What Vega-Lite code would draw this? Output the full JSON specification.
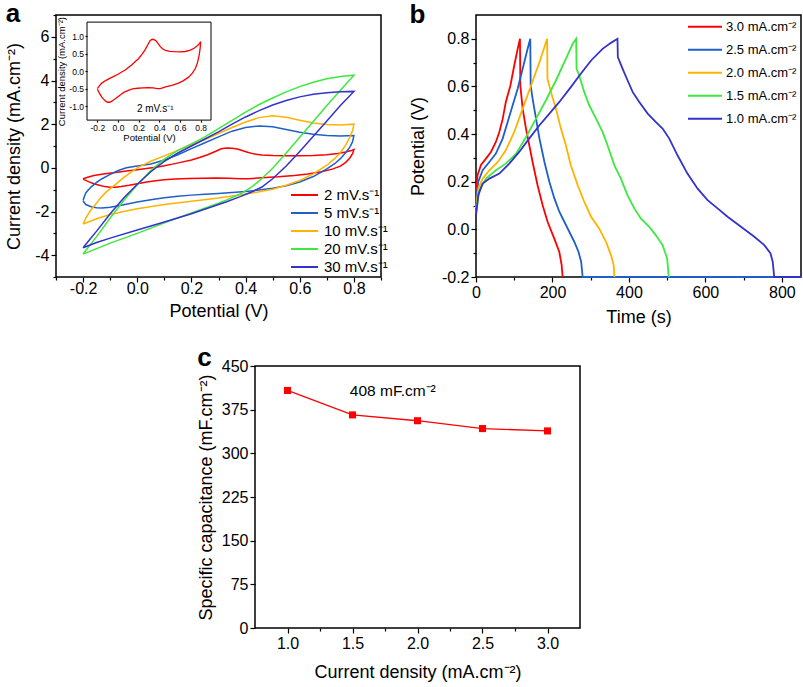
{
"$schema": "https://vega.github.io/schema/vega-lite/v6.json",
"padding": {"left": 5, "top": 0, "right": 0, "bottom": 0},
"background": "white",
"spacing": 17,
"resolve": {"scale": {"color": "independent"}},
"config": {
 "font": "Liberation Sans",
 "view": {"stroke": "black", "strokeWidth": 1.5},
 "axis": {"grid": false, "domain": false, "labelFlush": false, "tickColor": "black", "tickWidth": 1.2, "labelColor": "black", "titleColor": "black", "labelFontSize": 16, "titleFontSize": 18, "titleFontWeight": "normal", "labelFont": "Liberation Sans", "titleFont": "Liberation Sans"},
 "legend": {"labelColor": "black", "labelFont": "Liberation Sans"},
 "title": {"anchor": "start", "frame": "bounds", "fontWeight": "bold", "color": "black", "font": "Liberation Sans"}
},
"datasets": {
 "cv": [
{"s":"2 mV.s⁻¹","i":0,"v":-0.2,"j":-0.5},{"s":"2 mV.s⁻¹","i":1,"v":-0.18,"j":-0.42},{"s":"2 mV.s⁻¹","i":2,"v":-0.16,"j":-0.35},{"s":"2 mV.s⁻¹","i":3,"v":-0.12,"j":-0.27},{"s":"2 mV.s⁻¹","i":4,"v":-0.08,"j":-0.21},{"s":"2 mV.s⁻¹","i":5,"v":-0.04,"j":-0.15},{"s":"2 mV.s⁻¹","i":6,"v":0,"j":-0.09},{"s":"2 mV.s⁻¹","i":7,"v":0.04,"j":-0.02},{"s":"2 mV.s⁻¹","i":8,"v":0.07,"j":0.03},{"s":"2 mV.s⁻¹","i":9,"v":0.1,"j":0.1},{"s":"2 mV.s⁻¹","i":10,"v":0.13,"j":0.17},{"s":"2 mV.s⁻¹","i":11,"v":0.16,"j":0.25},{"s":"2 mV.s⁻¹","i":12,"v":0.2,"j":0.36},{"s":"2 mV.s⁻¹","i":13,"v":0.23,"j":0.47},{"s":"2 mV.s⁻¹","i":14,"v":0.26,"j":0.6},{"s":"2 mV.s⁻¹","i":15,"v":0.29,"j":0.76},{"s":"2 mV.s⁻¹","i":16,"v":0.31,"j":0.87},{"s":"2 mV.s⁻¹","i":17,"v":0.33,"j":0.91},{"s":"2 mV.s⁻¹","i":18,"v":0.35,"j":0.9},{"s":"2 mV.s⁻¹","i":19,"v":0.37,"j":0.86},{"s":"2 mV.s⁻¹","i":20,"v":0.39,"j":0.78},{"s":"2 mV.s⁻¹","i":21,"v":0.41,"j":0.7},{"s":"2 mV.s⁻¹","i":22,"v":0.43,"j":0.64},{"s":"2 mV.s⁻¹","i":23,"v":0.46,"j":0.59},{"s":"2 mV.s⁻¹","i":24,"v":0.5,"j":0.565},{"s":"2 mV.s⁻¹","i":25,"v":0.55,"j":0.555},{"s":"2 mV.s⁻¹","i":26,"v":0.6,"j":0.55},{"s":"2 mV.s⁻¹","i":27,"v":0.65,"j":0.56},{"s":"2 mV.s⁻¹","i":28,"v":0.7,"j":0.6},{"s":"2 mV.s⁻¹","i":29,"v":0.74,"j":0.66},{"s":"2 mV.s⁻¹","i":30,"v":0.77,"j":0.73},{"s":"2 mV.s⁻¹","i":31,"v":0.79,"j":0.79},{"s":"2 mV.s⁻¹","i":32,"v":0.8,"j":0.84},{"s":"2 mV.s⁻¹","i":33,"v":0.795,"j":0.65},{"s":"2 mV.s⁻¹","i":34,"v":0.785,"j":0.45},{"s":"2 mV.s⁻¹","i":35,"v":0.77,"j":0.25},{"s":"2 mV.s⁻¹","i":36,"v":0.75,"j":0.08},{"s":"2 mV.s⁻¹","i":37,"v":0.72,"j":-0.06},{"s":"2 mV.s⁻¹","i":38,"v":0.68,"j":-0.18},{"s":"2 mV.s⁻¹","i":39,"v":0.63,"j":-0.28},{"s":"2 mV.s⁻¹","i":40,"v":0.58,"j":-0.35},{"s":"2 mV.s⁻¹","i":41,"v":0.52,"j":-0.41},{"s":"2 mV.s⁻¹","i":42,"v":0.46,"j":-0.45},{"s":"2 mV.s⁻¹","i":43,"v":0.41,"j":-0.5},{"s":"2 mV.s⁻¹","i":44,"v":0.38,"j":-0.5},{"s":"2 mV.s⁻¹","i":45,"v":0.34,"j":-0.48},{"s":"2 mV.s⁻¹","i":46,"v":0.29,"j":-0.47},{"s":"2 mV.s⁻¹","i":47,"v":0.24,"j":-0.48},{"s":"2 mV.s⁻¹","i":48,"v":0.19,"j":-0.49},{"s":"2 mV.s⁻¹","i":49,"v":0.14,"j":-0.51},{"s":"2 mV.s⁻¹","i":50,"v":0.1,"j":-0.55},{"s":"2 mV.s⁻¹","i":51,"v":0.06,"j":-0.6},{"s":"2 mV.s⁻¹","i":52,"v":0.03,"j":-0.66},{"s":"2 mV.s⁻¹","i":53,"v":0,"j":-0.73},{"s":"2 mV.s⁻¹","i":54,"v":-0.03,"j":-0.8},{"s":"2 mV.s⁻¹","i":55,"v":-0.06,"j":-0.86},{"s":"2 mV.s⁻¹","i":56,"v":-0.08,"j":-0.89},{"s":"2 mV.s⁻¹","i":57,"v":-0.1,"j":-0.89},{"s":"2 mV.s⁻¹","i":58,"v":-0.12,"j":-0.86},{"s":"2 mV.s⁻¹","i":59,"v":-0.14,"j":-0.8},{"s":"2 mV.s⁻¹","i":60,"v":-0.16,"j":-0.73},{"s":"2 mV.s⁻¹","i":61,"v":-0.18,"j":-0.63},{"s":"2 mV.s⁻¹","i":62,"v":-0.2,"j":-0.52},
{"s":"5 mV.s⁻¹","i":0,"v":-0.2,"j":-1.5},{"s":"5 mV.s⁻¹","i":1,"v":-0.195,"j":-1.3},{"s":"5 mV.s⁻¹","i":2,"v":-0.19,"j":-1.15},{"s":"5 mV.s⁻¹","i":3,"v":-0.18,"j":-1.0},{"s":"5 mV.s⁻¹","i":4,"v":-0.17,"j":-0.87},{"s":"5 mV.s⁻¹","i":5,"v":-0.15,"j":-0.67},{"s":"5 mV.s⁻¹","i":6,"v":-0.13,"j":-0.5},{"s":"5 mV.s⁻¹","i":7,"v":-0.1,"j":-0.3},{"s":"5 mV.s⁻¹","i":8,"v":-0.07,"j":-0.12},{"s":"5 mV.s⁻¹","i":9,"v":-0.04,"j":0},{"s":"5 mV.s⁻¹","i":10,"v":0,"j":0.08},{"s":"5 mV.s⁻¹","i":11,"v":0.05,"j":0.18},{"s":"5 mV.s⁻¹","i":12,"v":0.1,"j":0.36},{"s":"5 mV.s⁻¹","i":13,"v":0.15,"j":0.6},{"s":"5 mV.s⁻¹","i":14,"v":0.2,"j":0.88},{"s":"5 mV.s⁻¹","i":15,"v":0.25,"j":1.15},{"s":"5 mV.s⁻¹","i":16,"v":0.3,"j":1.42},{"s":"5 mV.s⁻¹","i":17,"v":0.35,"j":1.68},{"s":"5 mV.s⁻¹","i":18,"v":0.4,"j":1.85},{"s":"5 mV.s⁻¹","i":19,"v":0.45,"j":1.92},{"s":"5 mV.s⁻¹","i":20,"v":0.5,"j":1.88},{"s":"5 mV.s⁻¹","i":21,"v":0.55,"j":1.76},{"s":"5 mV.s⁻¹","i":22,"v":0.6,"j":1.63},{"s":"5 mV.s⁻¹","i":23,"v":0.65,"j":1.54},{"s":"5 mV.s⁻¹","i":24,"v":0.7,"j":1.48},{"s":"5 mV.s⁻¹","i":25,"v":0.75,"j":1.46},{"s":"5 mV.s⁻¹","i":26,"v":0.8,"j":1.48},{"s":"5 mV.s⁻¹","i":27,"v":0.795,"j":1.2},{"s":"5 mV.s⁻¹","i":28,"v":0.785,"j":0.95},{"s":"5 mV.s⁻¹","i":29,"v":0.77,"j":0.7},{"s":"5 mV.s⁻¹","i":30,"v":0.75,"j":0.42},{"s":"5 mV.s⁻¹","i":31,"v":0.73,"j":0.2},{"s":"5 mV.s⁻¹","i":32,"v":0.7,"j":-0.05},{"s":"5 mV.s⁻¹","i":33,"v":0.65,"j":-0.4},{"s":"5 mV.s⁻¹","i":34,"v":0.6,"j":-0.65},{"s":"5 mV.s⁻¹","i":35,"v":0.55,"j":-0.82},{"s":"5 mV.s⁻¹","i":36,"v":0.5,"j":-0.93},{"s":"5 mV.s⁻¹","i":37,"v":0.45,"j":-1.02},{"s":"5 mV.s⁻¹","i":38,"v":0.4,"j":-1.08},{"s":"5 mV.s⁻¹","i":39,"v":0.35,"j":-1.13},{"s":"5 mV.s⁻¹","i":40,"v":0.3,"j":-1.17},{"s":"5 mV.s⁻¹","i":41,"v":0.25,"j":-1.21},{"s":"5 mV.s⁻¹","i":42,"v":0.2,"j":-1.25},{"s":"5 mV.s⁻¹","i":43,"v":0.15,"j":-1.3},{"s":"5 mV.s⁻¹","i":44,"v":0.1,"j":-1.37},{"s":"5 mV.s⁻¹","i":45,"v":0.05,"j":-1.46},{"s":"5 mV.s⁻¹","i":46,"v":0,"j":-1.57},{"s":"5 mV.s⁻¹","i":47,"v":-0.05,"j":-1.69},{"s":"5 mV.s⁻¹","i":48,"v":-0.1,"j":-1.8},{"s":"5 mV.s⁻¹","i":49,"v":-0.13,"j":-1.84},{"s":"5 mV.s⁻¹","i":50,"v":-0.15,"j":-1.83},{"s":"5 mV.s⁻¹","i":51,"v":-0.17,"j":-1.78},{"s":"5 mV.s⁻¹","i":52,"v":-0.19,"j":-1.68},{"s":"5 mV.s⁻¹","i":53,"v":-0.2,"j":-1.52},
{"s":"10 mV.s⁻¹","i":0,"v":-0.2,"j":-2.57},{"s":"10 mV.s⁻¹","i":1,"v":-0.19,"j":-2.3},{"s":"10 mV.s⁻¹","i":2,"v":-0.175,"j":-2.0},{"s":"10 mV.s⁻¹","i":3,"v":-0.157,"j":-1.71},{"s":"10 mV.s⁻¹","i":4,"v":-0.14,"j":-1.45},{"s":"10 mV.s⁻¹","i":5,"v":-0.12,"j":-1.17},{"s":"10 mV.s⁻¹","i":6,"v":-0.1,"j":-0.95},{"s":"10 mV.s⁻¹","i":7,"v":-0.08,"j":-0.76},{"s":"10 mV.s⁻¹","i":8,"v":-0.05,"j":-0.45},{"s":"10 mV.s⁻¹","i":9,"v":-0.02,"j":-0.17},{"s":"10 mV.s⁻¹","i":10,"v":0,"j":0},{"s":"10 mV.s⁻¹","i":11,"v":0.05,"j":0.3},{"s":"10 mV.s⁻¹","i":12,"v":0.1,"j":0.55},{"s":"10 mV.s⁻¹","i":13,"v":0.15,"j":0.8},{"s":"10 mV.s⁻¹","i":14,"v":0.2,"j":1.05},{"s":"10 mV.s⁻¹","i":15,"v":0.25,"j":1.3},{"s":"10 mV.s⁻¹","i":16,"v":0.3,"j":1.57},{"s":"10 mV.s⁻¹","i":17,"v":0.35,"j":1.85},{"s":"10 mV.s⁻¹","i":18,"v":0.4,"j":2.1},{"s":"10 mV.s⁻¹","i":19,"v":0.45,"j":2.3},{"s":"10 mV.s⁻¹","i":20,"v":0.5,"j":2.38},{"s":"10 mV.s⁻¹","i":21,"v":0.55,"j":2.32},{"s":"10 mV.s⁻¹","i":22,"v":0.6,"j":2.18},{"s":"10 mV.s⁻¹","i":23,"v":0.65,"j":2.05},{"s":"10 mV.s⁻¹","i":24,"v":0.7,"j":1.98},{"s":"10 mV.s⁻¹","i":25,"v":0.75,"j":1.96},{"s":"10 mV.s⁻¹","i":26,"v":0.8,"j":2.0},{"s":"10 mV.s⁻¹","i":27,"v":0.795,"j":1.7},{"s":"10 mV.s⁻¹","i":28,"v":0.785,"j":1.4},{"s":"10 mV.s⁻¹","i":29,"v":0.77,"j":1.05},{"s":"10 mV.s⁻¹","i":30,"v":0.75,"j":0.7},{"s":"10 mV.s⁻¹","i":31,"v":0.73,"j":0.43},{"s":"10 mV.s⁻¹","i":32,"v":0.7,"j":0.12},{"s":"10 mV.s⁻¹","i":33,"v":0.65,"j":-0.28},{"s":"10 mV.s⁻¹","i":34,"v":0.6,"j":-0.58},{"s":"10 mV.s⁻¹","i":35,"v":0.55,"j":-0.8},{"s":"10 mV.s⁻¹","i":36,"v":0.5,"j":-0.98},{"s":"10 mV.s⁻¹","i":37,"v":0.45,"j":-1.1},{"s":"10 mV.s⁻¹","i":38,"v":0.4,"j":-1.2},{"s":"10 mV.s⁻¹","i":39,"v":0.3,"j":-1.38},{"s":"10 mV.s⁻¹","i":40,"v":0.2,"j":-1.53},{"s":"10 mV.s⁻¹","i":41,"v":0.1,"j":-1.68},{"s":"10 mV.s⁻¹","i":42,"v":0,"j":-1.87},{"s":"10 mV.s⁻¹","i":43,"v":-0.05,"j":-2.0},{"s":"10 mV.s⁻¹","i":44,"v":-0.1,"j":-2.14},{"s":"10 mV.s⁻¹","i":45,"v":-0.15,"j":-2.33},{"s":"10 mV.s⁻¹","i":46,"v":-0.2,"j":-2.57},
{"s":"20 mV.s⁻¹","i":0,"v":-0.2,"j":-3.95},{"s":"20 mV.s⁻¹","i":1,"v":-0.18,"j":-3.62},{"s":"20 mV.s⁻¹","i":2,"v":-0.15,"j":-3.15},{"s":"20 mV.s⁻¹","i":3,"v":-0.1,"j":-2.3},{"s":"20 mV.s⁻¹","i":4,"v":-0.05,"j":-1.5},{"s":"20 mV.s⁻¹","i":5,"v":0,"j":-0.78},{"s":"20 mV.s⁻¹","i":6,"v":0.05,"j":-0.12},{"s":"20 mV.s⁻¹","i":7,"v":0.1,"j":0.4},{"s":"20 mV.s⁻¹","i":8,"v":0.15,"j":0.8},{"s":"20 mV.s⁻¹","i":9,"v":0.2,"j":1.1},{"s":"20 mV.s⁻¹","i":10,"v":0.25,"j":1.42},{"s":"20 mV.s⁻¹","i":11,"v":0.3,"j":1.8},{"s":"20 mV.s⁻¹","i":12,"v":0.35,"j":2.17},{"s":"20 mV.s⁻¹","i":13,"v":0.4,"j":2.55},{"s":"20 mV.s⁻¹","i":14,"v":0.45,"j":2.9},{"s":"20 mV.s⁻¹","i":15,"v":0.5,"j":3.2},{"s":"20 mV.s⁻¹","i":16,"v":0.55,"j":3.48},{"s":"20 mV.s⁻¹","i":17,"v":0.6,"j":3.72},{"s":"20 mV.s⁻¹","i":18,"v":0.65,"j":3.92},{"s":"20 mV.s⁻¹","i":19,"v":0.7,"j":4.08},{"s":"20 mV.s⁻¹","i":20,"v":0.75,"j":4.18},{"s":"20 mV.s⁻¹","i":21,"v":0.8,"j":4.24},{"s":"20 mV.s⁻¹","i":22,"v":0.775,"j":3.9},{"s":"20 mV.s⁻¹","i":23,"v":0.75,"j":3.55},{"s":"20 mV.s⁻¹","i":24,"v":0.7,"j":2.85},{"s":"20 mV.s⁻¹","i":25,"v":0.65,"j":2.12},{"s":"20 mV.s⁻¹","i":26,"v":0.6,"j":1.4},{"s":"20 mV.s⁻¹","i":27,"v":0.55,"j":0.68},{"s":"20 mV.s⁻¹","i":28,"v":0.5,"j":-0.02},{"s":"20 mV.s⁻¹","i":29,"v":0.45,"j":-0.6},{"s":"20 mV.s⁻¹","i":30,"v":0.42,"j":-0.9},{"s":"20 mV.s⁻¹","i":31,"v":0.38,"j":-1.2},{"s":"20 mV.s⁻¹","i":32,"v":0.33,"j":-1.47},{"s":"20 mV.s⁻¹","i":33,"v":0.3,"j":-1.62},{"s":"20 mV.s⁻¹","i":34,"v":0.2,"j":-2.07},{"s":"20 mV.s⁻¹","i":35,"v":0.1,"j":-2.52},{"s":"20 mV.s⁻¹","i":36,"v":0,"j":-3.0},{"s":"20 mV.s⁻¹","i":37,"v":-0.1,"j":-3.45},{"s":"20 mV.s⁻¹","i":38,"v":-0.15,"j":-3.7},{"s":"20 mV.s⁻¹","i":39,"v":-0.2,"j":-3.95},
{"s":"30 mV.s⁻¹","i":0,"v":-0.2,"j":-3.66},{"s":"30 mV.s⁻¹","i":1,"v":-0.18,"j":-3.35},{"s":"30 mV.s⁻¹","i":2,"v":-0.15,"j":-2.9},{"s":"30 mV.s⁻¹","i":3,"v":-0.1,"j":-2.1},{"s":"30 mV.s⁻¹","i":4,"v":-0.05,"j":-1.38},{"s":"30 mV.s⁻¹","i":5,"v":0,"j":-0.75},{"s":"30 mV.s⁻¹","i":6,"v":0.05,"j":-0.18},{"s":"30 mV.s⁻¹","i":7,"v":0.1,"j":0.3},{"s":"30 mV.s⁻¹","i":8,"v":0.15,"j":0.68},{"s":"30 mV.s⁻¹","i":9,"v":0.2,"j":1.0},{"s":"30 mV.s⁻¹","i":10,"v":0.25,"j":1.32},{"s":"30 mV.s⁻¹","i":11,"v":0.3,"j":1.65},{"s":"30 mV.s⁻¹","i":12,"v":0.35,"j":2.0},{"s":"30 mV.s⁻¹","i":13,"v":0.4,"j":2.33},{"s":"30 mV.s⁻¹","i":14,"v":0.45,"j":2.62},{"s":"30 mV.s⁻¹","i":15,"v":0.5,"j":2.88},{"s":"30 mV.s⁻¹","i":16,"v":0.55,"j":3.08},{"s":"30 mV.s⁻¹","i":17,"v":0.6,"j":3.25},{"s":"30 mV.s⁻¹","i":18,"v":0.65,"j":3.37},{"s":"30 mV.s⁻¹","i":19,"v":0.7,"j":3.44},{"s":"30 mV.s⁻¹","i":20,"v":0.75,"j":3.48},{"s":"30 mV.s⁻¹","i":21,"v":0.8,"j":3.5},{"s":"30 mV.s⁻¹","i":22,"v":0.775,"j":3.18},{"s":"30 mV.s⁻¹","i":23,"v":0.75,"j":2.85},{"s":"30 mV.s⁻¹","i":24,"v":0.7,"j":2.15},{"s":"30 mV.s⁻¹","i":25,"v":0.65,"j":1.45},{"s":"30 mV.s⁻¹","i":26,"v":0.6,"j":0.75},{"s":"30 mV.s⁻¹","i":27,"v":0.55,"j":0.08},{"s":"30 mV.s⁻¹","i":28,"v":0.5,"j":-0.5},{"s":"30 mV.s⁻¹","i":29,"v":0.46,"j":-0.88},{"s":"30 mV.s⁻¹","i":30,"v":0.42,"j":-1.12},{"s":"30 mV.s⁻¹","i":31,"v":0.38,"j":-1.32},{"s":"30 mV.s⁻¹","i":32,"v":0.33,"j":-1.55},{"s":"30 mV.s⁻¹","i":33,"v":0.3,"j":-1.68},{"s":"30 mV.s⁻¹","i":34,"v":0.2,"j":-2.1},{"s":"30 mV.s⁻¹","i":35,"v":0.1,"j":-2.48},{"s":"30 mV.s⁻¹","i":36,"v":0,"j":-2.85},{"s":"30 mV.s⁻¹","i":37,"v":-0.1,"j":-3.22},{"s":"30 mV.s⁻¹","i":38,"v":-0.15,"j":-3.42},{"s":"30 mV.s⁻¹","i":39,"v":-0.2,"j":-3.66}
 ],
 "gcd": [
{"s":"3.0 mA.cm⁻²","t":0,"e":0.158},{"s":"3.0 mA.cm⁻²","t":4,"e":0.227},{"s":"3.0 mA.cm⁻²","t":13,"e":0.27},{"s":"3.0 mA.cm⁻²","t":26,"e":0.297},{"s":"3.0 mA.cm⁻²","t":39,"e":0.325},{"s":"3.0 mA.cm⁻²","t":52,"e":0.367},{"s":"3.0 mA.cm⁻²","t":61,"e":0.409},{"s":"3.0 mA.cm⁻²","t":70,"e":0.465},{"s":"3.0 mA.cm⁻²","t":78,"e":0.535},{"s":"3.0 mA.cm⁻²","t":90,"e":0.604},{"s":"3.0 mA.cm⁻²","t":100,"e":0.688},{"s":"3.0 mA.cm⁻²","t":109,"e":0.758},{"s":"3.0 mA.cm⁻²","t":115,"e":0.8},{"s":"3.0 mA.cm⁻²","t":116,"e":0.6},{"s":"3.0 mA.cm⁻²","t":117.6,"e":0.577},{"s":"3.0 mA.cm⁻²","t":122,"e":0.507},{"s":"3.0 mA.cm⁻²","t":130.7,"e":0.423},{"s":"3.0 mA.cm⁻²","t":139.4,"e":0.353},{"s":"3.0 mA.cm⁻²","t":148,"e":0.283},{"s":"3.0 mA.cm⁻²","t":161,"e":0.185},{"s":"3.0 mA.cm⁻²","t":174.3,"e":0.101},{"s":"3.0 mA.cm⁻²","t":187.4,"e":0.031},{"s":"3.0 mA.cm⁻²","t":204.8,"e":-0.039},{"s":"3.0 mA.cm⁻²","t":217.9,"e":-0.095},{"s":"3.0 mA.cm⁻²","t":224,"e":-0.15},{"s":"3.0 mA.cm⁻²","t":226.6,"e":-0.2},
{"s":"2.5 mA.cm⁻²","t":0,"e":0.116},{"s":"2.5 mA.cm⁻²","t":6,"e":0.2},{"s":"2.5 mA.cm⁻²","t":17.4,"e":0.248},{"s":"2.5 mA.cm⁻²","t":34.9,"e":0.283},{"s":"2.5 mA.cm⁻²","t":52,"e":0.318},{"s":"2.5 mA.cm⁻²","t":69.7,"e":0.381},{"s":"2.5 mA.cm⁻²","t":82.8,"e":0.451},{"s":"2.5 mA.cm⁻²","t":95.9,"e":0.521},{"s":"2.5 mA.cm⁻²","t":109,"e":0.59},{"s":"2.5 mA.cm⁻²","t":122,"e":0.674},{"s":"2.5 mA.cm⁻²","t":135,"e":0.758},{"s":"2.5 mA.cm⁻²","t":142,"e":0.8},{"s":"2.5 mA.cm⁻²","t":143,"e":0.605},{"s":"2.5 mA.cm⁻²","t":148,"e":0.549},{"s":"2.5 mA.cm⁻²","t":157,"e":0.465},{"s":"2.5 mA.cm⁻²","t":166,"e":0.381},{"s":"2.5 mA.cm⁻²","t":179,"e":0.283},{"s":"2.5 mA.cm⁻²","t":192,"e":0.199},{"s":"2.5 mA.cm⁻²","t":205,"e":0.13},{"s":"2.5 mA.cm⁻²","t":218,"e":0.074},{"s":"2.5 mA.cm⁻²","t":231,"e":0.032},{"s":"2.5 mA.cm⁻²","t":244,"e":-0.01},{"s":"2.5 mA.cm⁻²","t":257,"e":-0.052},{"s":"2.5 mA.cm⁻²","t":268,"e":-0.094},{"s":"2.5 mA.cm⁻²","t":275,"e":-0.136},{"s":"2.5 mA.cm⁻²","t":279,"e":-0.2},{"s":"2.5 mA.cm⁻²","t":850,"e":-0.2},
{"s":"2.0 mA.cm⁻²","t":0,"e":0.088},{"s":"2.0 mA.cm⁻²","t":6,"e":0.172},{"s":"2.0 mA.cm⁻²","t":17.4,"e":0.213},{"s":"2.0 mA.cm⁻²","t":35,"e":0.248},{"s":"2.0 mA.cm⁻²","t":57,"e":0.283},{"s":"2.0 mA.cm⁻²","t":78,"e":0.332},{"s":"2.0 mA.cm⁻²","t":100,"e":0.409},{"s":"2.0 mA.cm⁻²","t":122,"e":0.507},{"s":"2.0 mA.cm⁻²","t":144,"e":0.604},{"s":"2.0 mA.cm⁻²","t":166,"e":0.702},{"s":"2.0 mA.cm⁻²","t":186,"e":0.8},{"s":"2.0 mA.cm⁻²","t":187,"e":0.632},{"s":"2.0 mA.cm⁻²","t":196,"e":0.577},{"s":"2.0 mA.cm⁻²","t":209,"e":0.507},{"s":"2.0 mA.cm⁻²","t":222,"e":0.423},{"s":"2.0 mA.cm⁻²","t":235,"e":0.353},{"s":"2.0 mA.cm⁻²","t":248,"e":0.269},{"s":"2.0 mA.cm⁻²","t":266,"e":0.185},{"s":"2.0 mA.cm⁻²","t":283,"e":0.116},{"s":"2.0 mA.cm⁻²","t":301,"e":0.053},{"s":"2.0 mA.cm⁻²","t":322,"e":0.004},{"s":"2.0 mA.cm⁻²","t":340,"e":-0.052},{"s":"2.0 mA.cm⁻²","t":353,"e":-0.108},{"s":"2.0 mA.cm⁻²","t":360,"e":-0.15},{"s":"2.0 mA.cm⁻²","t":362,"e":-0.2},
{"s":"1.5 mA.cm⁻²","t":0,"e":0.067},{"s":"1.5 mA.cm⁻²","t":8.7,"e":0.165},{"s":"1.5 mA.cm⁻²","t":26,"e":0.213},{"s":"1.5 mA.cm⁻²","t":52,"e":0.248},{"s":"1.5 mA.cm⁻²","t":78,"e":0.276},{"s":"1.5 mA.cm⁻²","t":105,"e":0.318},{"s":"1.5 mA.cm⁻²","t":131,"e":0.388},{"s":"1.5 mA.cm⁻²","t":157,"e":0.465},{"s":"1.5 mA.cm⁻²","t":183,"e":0.542},{"s":"1.5 mA.cm⁻²","t":209,"e":0.625},{"s":"1.5 mA.cm⁻²","t":235,"e":0.716},{"s":"1.5 mA.cm⁻²","t":253,"e":0.779},{"s":"1.5 mA.cm⁻²","t":262,"e":0.8},{"s":"1.5 mA.cm⁻²","t":263,"e":0.674},{"s":"1.5 mA.cm⁻²","t":270,"e":0.646},{"s":"1.5 mA.cm⁻²","t":283,"e":0.577},{"s":"1.5 mA.cm⁻²","t":296,"e":0.521},{"s":"1.5 mA.cm⁻²","t":314,"e":0.465},{"s":"1.5 mA.cm⁻²","t":331,"e":0.409},{"s":"1.5 mA.cm⁻²","t":344,"e":0.353},{"s":"1.5 mA.cm⁻²","t":362,"e":0.269},{"s":"1.5 mA.cm⁻²","t":379,"e":0.213},{"s":"1.5 mA.cm⁻²","t":396,"e":0.144},{"s":"1.5 mA.cm⁻²","t":414,"e":0.088},{"s":"1.5 mA.cm⁻²","t":431,"e":0.046},{"s":"1.5 mA.cm⁻²","t":453,"e":0.011},{"s":"1.5 mA.cm⁻²","t":470,"e":-0.024},{"s":"1.5 mA.cm⁻²","t":488,"e":-0.066},{"s":"1.5 mA.cm⁻²","t":500,"e":-0.122},{"s":"1.5 mA.cm⁻²","t":504,"e":-0.2},
{"s":"1.0 mA.cm⁻²","t":0,"e":0.06},{"s":"1.0 mA.cm⁻²","t":6,"e":0.144},{"s":"1.0 mA.cm⁻²","t":17.4,"e":0.192},{"s":"1.0 mA.cm⁻²","t":35,"e":0.213},{"s":"1.0 mA.cm⁻²","t":61,"e":0.234},{"s":"1.0 mA.cm⁻²","t":87,"e":0.276},{"s":"1.0 mA.cm⁻²","t":113,"e":0.325},{"s":"1.0 mA.cm⁻²","t":139,"e":0.381},{"s":"1.0 mA.cm⁻²","t":166,"e":0.437},{"s":"1.0 mA.cm⁻²","t":192,"e":0.486},{"s":"1.0 mA.cm⁻²","t":218,"e":0.535},{"s":"1.0 mA.cm⁻²","t":248,"e":0.597},{"s":"1.0 mA.cm⁻²","t":274,"e":0.653},{"s":"1.0 mA.cm⁻²","t":301,"e":0.709},{"s":"1.0 mA.cm⁻²","t":331,"e":0.758},{"s":"1.0 mA.cm⁻²","t":353,"e":0.783},{"s":"1.0 mA.cm⁻²","t":370,"e":0.8},{"s":"1.0 mA.cm⁻²","t":371,"e":0.723},{"s":"1.0 mA.cm⁻²","t":383.5,"e":0.674},{"s":"1.0 mA.cm⁻²","t":396.6,"e":0.625},{"s":"1.0 mA.cm⁻²","t":409.6,"e":0.577},{"s":"1.0 mA.cm⁻²","t":427,"e":0.535},{"s":"1.0 mA.cm⁻²","t":449,"e":0.486},{"s":"1.0 mA.cm⁻²","t":470,"e":0.451},{"s":"1.0 mA.cm⁻²","t":488,"e":0.423},{"s":"1.0 mA.cm⁻²","t":505.5,"e":0.381},{"s":"1.0 mA.cm⁻²","t":527,"e":0.311},{"s":"1.0 mA.cm⁻²","t":553,"e":0.234},{"s":"1.0 mA.cm⁻²","t":579.6,"e":0.171},{"s":"1.0 mA.cm⁻²","t":605.7,"e":0.123},{"s":"1.0 mA.cm⁻²","t":631.8,"e":0.088},{"s":"1.0 mA.cm⁻²","t":658,"e":0.053},{"s":"1.0 mA.cm⁻²","t":693,"e":0.011},{"s":"1.0 mA.cm⁻²","t":728,"e":-0.031},{"s":"1.0 mA.cm⁻²","t":754,"e":-0.066},{"s":"1.0 mA.cm⁻²","t":770,"e":-0.1},{"s":"1.0 mA.cm⁻²","t":776,"e":-0.136},{"s":"1.0 mA.cm⁻²","t":780,"e":-0.2},{"s":"1.0 mA.cm⁻²","t":850,"e":-0.2}
 ],
 "cap": [
{"d":1.0,"c":408},{"d":1.5,"c":366},{"d":2.0,"c":356},{"d":2.5,"c":342.5},{"d":3.0,"c":338.5}
 ]
},
"vconcat": [
 {
  "hconcat": [
   {
    "width": 325, "height": 262,
    "title": {"text": "a", "fontSize": 26, "offset": -13},
    "layer": [
     {
      "data": {"name": "cv"},
      "mark": {"type": "line", "strokeWidth": 1.5},
      "encoding": {
       "x": {"field": "v", "type": "quantitative", "scale": {"domain": [-0.3, 0.9], "nice": false, "zero": false},
        "axis": {"title": "Potential (V)", "values": [-0.3,-0.2,-0.1,0,0.1,0.2,0.3,0.4,0.5,0.6,0.7,0.8,0.9],
         "labelExpr": "abs(round(datum.value*10)) % 2 === 0 ? replace(format(datum.value, '.1f'), '\u2212', '-') : ''",
         "tickSize": {"condition": {"test": "abs(round(datum.value*10)) % 2 === 0", "value": 5}, "value": 3},
         "labelPadding": -2, "titlePadding": 6}},
       "y": {"field": "j", "type": "quantitative", "scale": {"domain": [-5, 7], "nice": false, "zero": false},
        "axis": {"title": "Current density (mA.cm⁻²)", "values": [-5,-4,-3,-2,-1,0,1,2,3,4,5,6,7],
         "labelExpr": "abs(datum.value) % 2 === 0 ? replace(format(datum.value, 'd'), '\u2212', '-') : ''",
         "tickSize": {"condition": {"test": "abs(datum.value) % 2 === 0", "value": 5}, "value": 3},
         "labelPadding": 2, "titlePadding": 11}},
       "color": {"field": "s", "type": "nominal",
        "scale": {"domain": ["2 mV.s⁻¹","5 mV.s⁻¹","10 mV.s⁻¹","20 mV.s⁻¹","30 mV.s⁻¹"], "range": ["#ff0000","#1f5fc8","#ffb300","#3ee83e","#3333cc"]},
        "legend": {"orient": "none", "legendX": 234, "legendY": 171, "title": null, "symbolType": "stroke", "symbolSize": 729, "symbolStrokeWidth": 2, "labelFontSize": 15, "labelOffset": 5, "clipHeight": 18, "rowPadding": 0, "padding": 0}},
       "order": {"field": "i", "type": "quantitative"}
      }
     },
     {
      "data": {"values": [{}]},
      "mark": {"type": "rect", "filled": false, "color": "black", "strokeWidth": 1},
      "encoding": {
       "x": {"datum": -0.3, "type": "quantitative", "scale": {"domain": [-0.3, 0.9], "range": [31, 155], "nice": false, "zero": false}, "axis": null},
       "x2": {"datum": 0.9},
       "y": {"datum": -1.4, "type": "quantitative", "scale": {"domain": [-1.4, 1.4], "range": [105.1, 7.1], "nice": false, "zero": false}, "axis": null},
       "y2": {"datum": 1.4}
      }
     },
     {
      "data": {"name": "cv"},
      "transform": [{"filter": "datum.s === '2 mV.s⁻¹'"}],
      "mark": {"type": "line", "color": "#ff0000", "strokeWidth": 1.3},
      "encoding": {
       "x": {"field": "v", "type": "quantitative", "scale": {"domain": [-0.3, 0.9], "range": [31, 155], "nice": false, "zero": false},
        "axis": {"orient": "bottom", "offset": -156.9, "title": "Potential (V)", "titleFontSize": 9.5, "labelFontSize": 8.5, "values": [-0.2,0,0.2,0.4,0.6,0.8], "labelExpr": "replace(format(datum.value, '.1f'), '\u2212', '-')", "tickSize": 2, "labelPadding": 1, "titlePadding": 1, "zindex": 1}},
       "y": {"field": "j", "type": "quantitative", "scale": {"domain": [-1.4, 1.4], "range": [105.1, 7.1], "nice": false, "zero": false},
        "axis": {"orient": "left", "offset": -31, "title": "Current density (mA.cm⁻²)", "titleFontSize": 9.5, "labelFontSize": 8.5, "values": [-1,-0.5,0,0.5,1], "labelExpr": "replace(format(datum.value, '.1f'), '\u2212', '-')", "tickSize": 2, "labelPadding": 1.5, "titlePadding": 2.5, "zindex": 1}},
       "order": {"field": "i", "type": "quantitative"}
      }
     },
     {
      "data": {"values": [{}]},
      "mark": {"type": "text", "fontSize": 10, "color": "black"},
      "encoding": {
       "x": {"datum": 0.36, "type": "quantitative", "scale": {"domain": [-0.3, 0.9], "range": [31, 155], "nice": false, "zero": false}, "axis": null},
       "y": {"datum": -1.07, "type": "quantitative", "scale": {"domain": [-1.4, 1.4], "range": [105.1, 7.1], "nice": false, "zero": false}, "axis": null},
       "text": {"value": "2 mV.s⁻¹"}
      }
     }
    ],
    "resolve": {"scale": {"x": "independent", "y": "independent"}, "axis": {"x": "independent", "y": "independent"}}
   },
   {
    "width": 325, "height": 262,
    "title": {"text": "b", "fontSize": 26, "offset": -13},
    "data": {"name": "gcd"},
    "mark": {"type": "line", "strokeWidth": 1.8},
    "encoding": {
     "x": {"field": "t", "type": "quantitative", "scale": {"domain": [0, 850], "nice": false},
      "axis": {"title": "Time (s)", "values": [0,100,200,300,400,500,600,700,800],
       "labelExpr": "datum.value % 200 === 0 ? format(datum.value, 'd') : ''",
       "tickSize": {"condition": {"test": "datum.value % 200 === 0", "value": 5}, "value": 3},
       "labelPadding": 2, "titlePadding": 8}},
     "y": {"field": "e", "type": "quantitative", "scale": {"domain": [-0.2, 0.9], "nice": false, "zero": false},
      "axis": {"title": "Potential (V)", "values": [-0.2,-0.1,0,0.1,0.2,0.3,0.4,0.5,0.6,0.7,0.8],
       "labelExpr": "abs(round(datum.value*10)) % 2 === 0 ? replace(format(datum.value, '.1f'), '\u2212', '-') : ''",
       "tickSize": {"condition": {"test": "abs(round(datum.value*10)) % 2 === 0", "value": 5}, "value": 3},
       "labelPadding": 2, "titlePadding": 14}},
     "color": {"field": "s", "type": "nominal",
      "scale": {"domain": ["3.0 mA.cm⁻²","2.5 mA.cm⁻²","2.0 mA.cm⁻²","1.5 mA.cm⁻²","1.0 mA.cm⁻²"], "range": ["#ff0000","#1f5fc8","#ffb300","#3ee83e","#3333cc"]},
      "legend": {"orient": "none", "legendX": 211, "legendY": 0.6, "title": null, "symbolType": "stroke", "symbolSize": 1156, "symbolStrokeWidth": 2, "labelFontSize": 13, "labelOffset": 3, "clipHeight": 22.4, "rowPadding": 0, "padding": 0}}
    }
   }
  ],
  "spacing": 19,
  "resolve": {"scale": {"color": "independent"}}
 },
 {
  "hconcat": [
   {
    "width": 140, "height": 262,
    "data": {"values": []},
    "mark": "point",
    "view": {"stroke": null}
   },
   {
    "width": 325, "height": 262,
    "title": {"text": "c", "fontSize": 26, "offset": -13},
    "layer": [
     {
      "data": {"name": "cap"},
      "mark": {"type": "line", "color": "#ff0000", "strokeWidth": 1.3},
      "encoding": {
       "x": {"field": "d", "type": "quantitative", "scale": {"domain": [0.75, 3.25], "nice": false, "zero": false},
        "axis": {"title": "Current density (mA.cm⁻²)", "values": [1,1.25,1.5,1.75,2,2.25,2.5,2.75,3],
         "labelExpr": "round(datum.value*4) % 2 === 0 ? format(datum.value, '.1f') : ''",
         "tickSize": {"condition": {"test": "round(datum.value*4) % 2 === 0", "value": 5}, "value": 3},
         "labelPadding": 2, "titlePadding": 12}},
       "y": {"field": "c", "type": "quantitative", "scale": {"domain": [0, 450], "nice": false},
        "axis": {"title": "Specific capacitance (mF.cm⁻²)", "values": [0,37.5,75,112.5,150,187.5,225,262.5,300,337.5,375,412.5,450],
         "labelExpr": "datum.value % 75 === 0 ? format(datum.value, 'd') : ''",
         "tickSize": {"condition": {"test": "datum.value % 75 === 0", "value": 5}, "value": 3},
         "labelPadding": 2, "titlePadding": 6}}
      }
     },
     {
      "data": {"name": "cap"},
      "mark": {"type": "square", "color": "#ff0000", "size": 50, "opacity": 1},
      "encoding": {
       "x": {"field": "d", "type": "quantitative"},
       "y": {"field": "c", "type": "quantitative"}
      }
     },
     {
      "data": {"values": [{}]},
      "mark": {"type": "text", "fontSize": 15.5, "color": "black"},
      "encoding": {
       "x": {"datum": 1.81, "type": "quantitative"},
       "y": {"datum": 407, "type": "quantitative"},
       "text": {"value": "408 mF.cm⁻²"}
      }
     }
    ]
   }
  ],
  "spacing": 0
 }
]
}
